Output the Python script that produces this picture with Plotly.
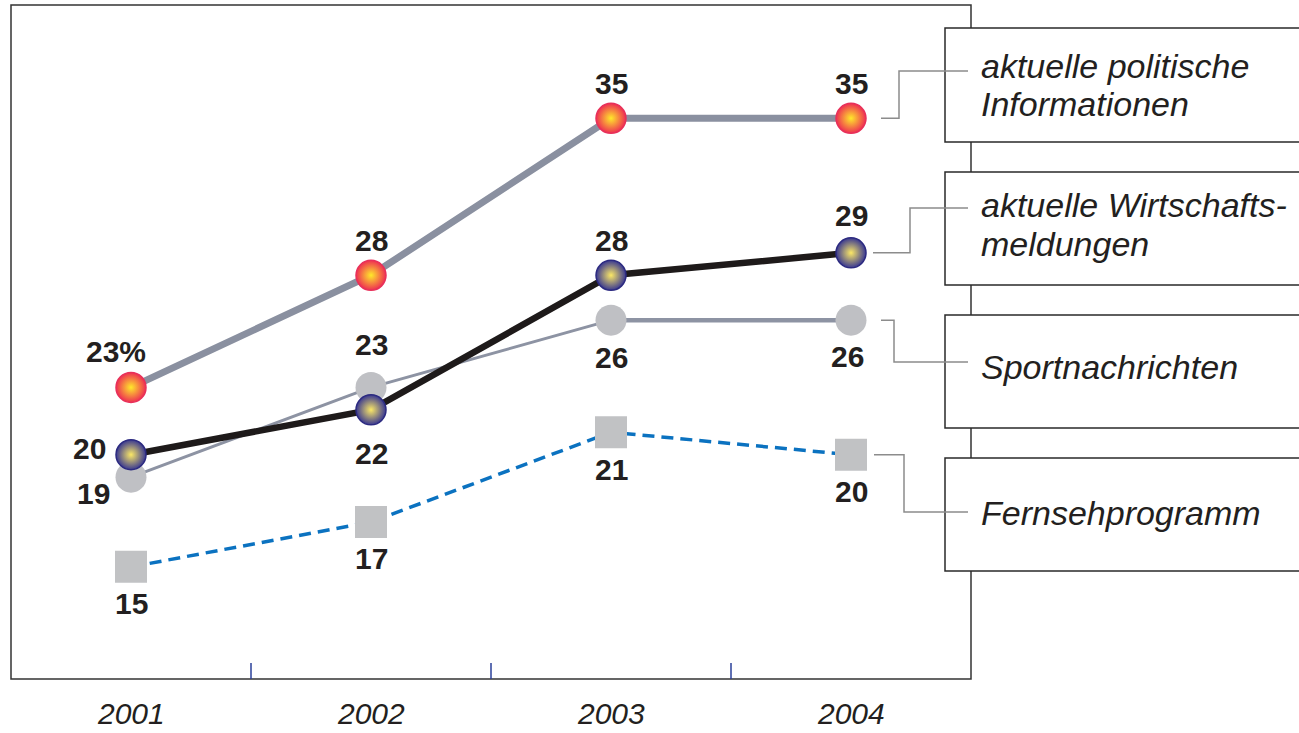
import plotly.graph_objects as go

years = ["2001", "2002", "2003", "2004"]
xpos = [1, 2, 3, 4]
politik = [23, 28, 35, 35]
wirtschaft = [20, 22, 28, 29]
sport = [19, 23, 26, 26]
fernseh = [15, 17, 21, 20]
legend_lines = [
    ["aktuelle politische", "Informationen"],
    ["aktuelle Wirtschafts-", "meldungen"],
    ["Sportnachrichten"],
    ["Fernsehprogramm"],
]

W, H = 1299, 733
L, R, T, B = 11, 971, 5, 679
Y0, Y1 = 10, 40.05

def px(x):
    return (x - L) / (R - L)

def py(y):
    return (B - y) / (B - T)

def vy(v):
    return (v - Y0) / (Y1 - Y0)

fig = go.Figure()

fig.add_trace(go.Scatter(
    x=xpos, y=fernseh, mode="lines+markers",
    line=dict(color="#0b72c0", width=3.5, dash="12px,7px"),
    marker=dict(symbol="square", size=32, color="#c1c2c4", line=dict(width=0)),
    hoverinfo="skip"))
fig.add_trace(go.Scatter(
    x=xpos[:3], y=sport[:3], mode="lines",
    line=dict(color="#8d93a3", width=3), hoverinfo="skip"))
fig.add_trace(go.Scatter(
    x=xpos[2:], y=sport[2:], mode="lines",
    line=dict(color="#8d93a3", width=4.5), hoverinfo="skip"))
fig.add_trace(go.Scatter(
    x=xpos, y=sport, mode="markers",
    marker=dict(symbol="circle", size=31, color="#bfc0c4", line=dict(width=0)),
    hoverinfo="skip"))
fig.add_trace(go.Scatter(
    x=xpos, y=wirtschaft, mode="lines+markers",
    line=dict(color="#1e1a1a", width=6.5),
    marker=dict(symbol="circle", size=30, color="#3a3990",
                gradient=dict(type="radial", color="#fbe866"),
                line=dict(width=1.5, color="#2c2a80")),
    hoverinfo="skip"))
fig.add_trace(go.Scatter(
    x=xpos, y=politik, mode="lines+markers",
    line=dict(color="#8a90a0", width=7),
    marker=dict(symbol="circle", size=30, color="#ee2f52",
                gradient=dict(type="radial", color="#ffe92a"),
                line=dict(width=1.5, color="#e8305a")),
    hoverinfo="skip"))

lab_font = dict(family="Liberation Sans", size=30, color="#231f20", weight="bold")
annotations = []

def add_label(x, v, text, dx, dy):
    annotations.append(dict(x=x, y=v, xref="x", yref="y", text=text, showarrow=False,
                            xshift=dx, yshift=dy, font=lab_font,
                            xanchor="center", yanchor="middle"))

pol_off = [(-15, 36), (0, 35), (0, 35), (0, 35)]
for i, v in enumerate(politik):
    add_label(xpos[i], v, f"{v}%" if i == 0 else f"{v}", *pol_off[i])
wir_off = [(-42, 6), (0, -44), (0, 35), (0, 37)]
for i, v in enumerate(wirtschaft):
    add_label(xpos[i], v, f"{v}", *wir_off[i])
spo_off = [(-38, -16), (0, 43), (0, -37), (-4, -36)]
for i, v in enumerate(sport):
    add_label(xpos[i], v, f"{v}", *spo_off[i])
fer_off = [(0, -37), (0, -36), (0, -37), (0, -37)]
for i, v in enumerate(fernseh):
    add_label(xpos[i], v, f"{v}", *fer_off[i])

year_font = dict(family="Liberation Sans", size=30, color="#231f20", style="italic")
for i, yr in enumerate(years):
    annotations.append(dict(x=xpos[i], y=0, xref="x", yref="paper", text=yr,
                            showarrow=False, yshift=-34, font=year_font,
                            xanchor="center", yanchor="middle", borderpad=0))

leg_font = dict(family="Liberation Sans", size=34, color="#231f20", style="italic")
leg_text_y = [[66, 104], [205, 244], [367], [513]]
for lines, ys in zip(legend_lines, leg_text_y):
    for t, yy in zip(lines, ys):
        annotations.append(dict(x=px(979), y=py(yy), xref="paper", yref="paper", text=t,
                                showarrow=False, font=leg_font,
                                xanchor="left", yanchor="middle"))

shapes = []
# plot frame
shapes.append(dict(type="rect", xref="paper", yref="paper", x0=0, x1=1, y0=0, y1=1,
                   line=dict(color="#333333", width=1.5), fillcolor="rgba(0,0,0,0)",
                   layer="below"))
# inner ticks
for t in [1.5, 2.5, 3.5]:
    shapes.append(dict(type="line", xref="x", yref="paper", x0=t, x1=t, y0=0,
                       y1=16 / (B - T), line=dict(color="#2a3f9a", width=1.5)))
# legend boxes
boxes = [(28, 142), (172, 285), (315, 428), (458, 571)]
for top, bot in boxes:
    shapes.append(dict(type="rect", xref="paper", yref="paper", x0=px(945), x1=px(1320),
                       y0=py(bot), y1=py(top), line=dict(color="#2a2a2a", width=1.5),
                       fillcolor="white", layer="above"))
# connectors: start at the 2004 value, step to the legend text line
conn = [(politik[3], 881, 899, 71), (wirtschaft[3], 873, 910, 208),
        (sport[3], 881, 894, 362), (fernseh[3], 874, 904, 512)]
for v, xa, xb, yt in conn:
    ys = vy(v)
    path = (f"M {px(xa)},{ys} L {px(xb)},{ys} L {px(xb)},{py(yt)} L {px(968)},{py(yt)}")
    shapes.append(dict(type="path", xref="paper", yref="paper", path=path,
                       line=dict(color="#8c8c8c", width=1.5), layer="above"))

fig.update_layout(
    width=W, height=H,
    margin=dict(l=L, r=W - R, t=T, b=H - B, pad=0),
    paper_bgcolor="white", plot_bgcolor="white",
    showlegend=False,
    xaxis=dict(range=[0.5, 4.5], showgrid=False, zeroline=False, showticklabels=False,
               ticks="", showline=False),
    yaxis=dict(range=[Y0, Y1], showgrid=False, zeroline=False, showticklabels=False,
               ticks="", showline=False),
    annotations=annotations, shapes=shapes,
)

fig.write_html("out.html", config={"displayModeBar": False},
               post_script="document.body.style.margin='0px';document.body.style.overflow='hidden';")
